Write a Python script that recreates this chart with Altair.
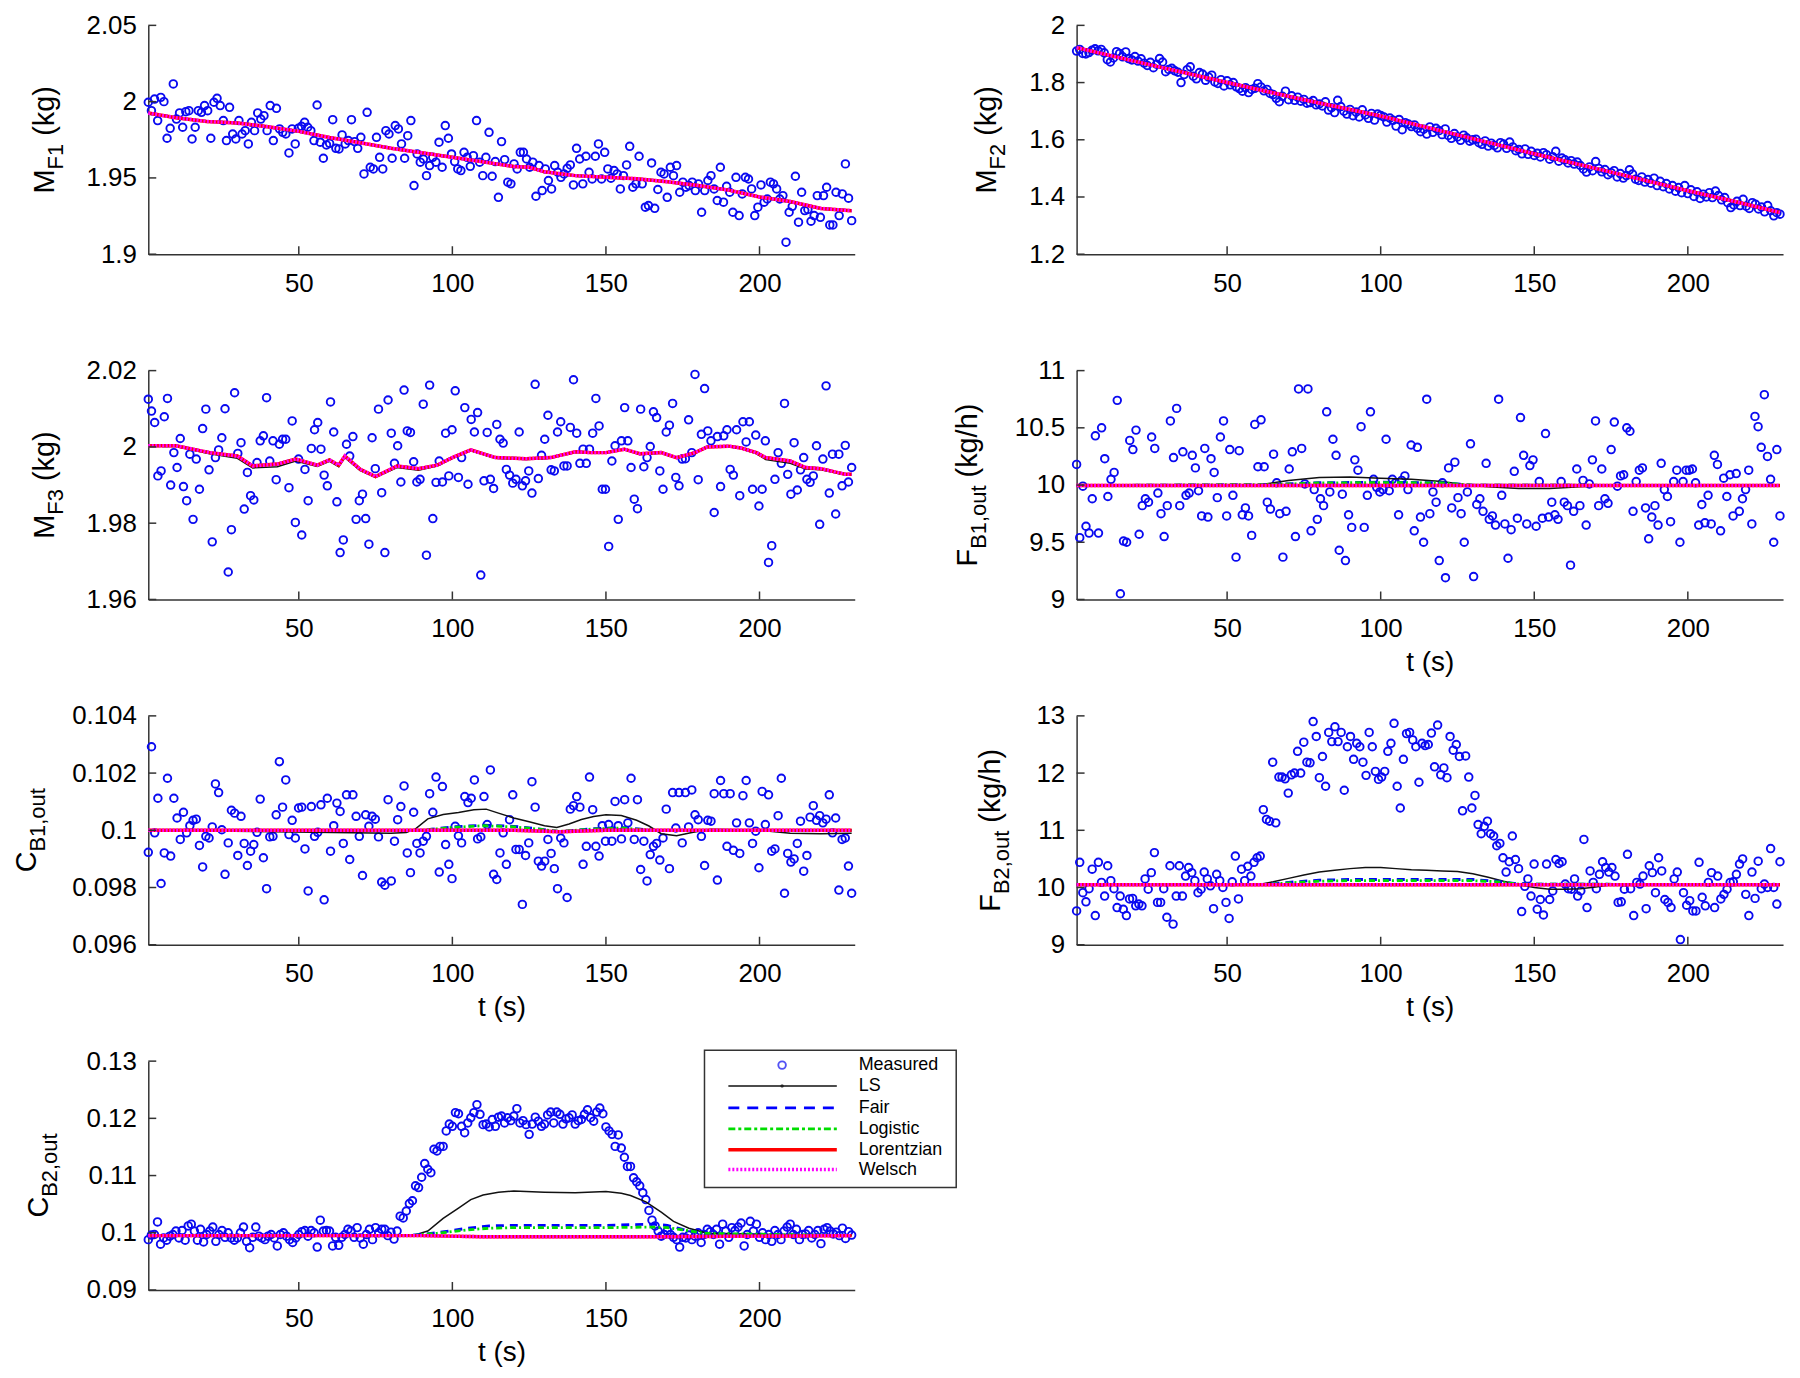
import altair as alt
import numpy as np
import pandas as pd

FONT = "Liberation Sans"
W, H = 710, 230
XDOM = [1, 231]
XTICKS = [50, 100, 150, 200]
AXC = "#333333"
PT_COLOR = "#0A0AF0"

# M_F1 in grams
MF1_G = [1999.6, 1994.1, 2001.7, 1987.6, 2002.8, 2000, 1976.0, 1982.5, 2011.6, 1988.6, 1992.6, 1983.2, 1993.4, 1994.1, 1975.5,
         1983.2, 1994.1, 1993.0, 1997.4, 1994.1, 1976, 1999.6, 2002.2, 1997.4, 1987.6, 1974.5, 1996.3, 1978.8, 1975.5, 1987.6,
         1978.8, 1981, 1972.3, 1986.5, 1981, 1992.6, 1988.6, 1990.8, 1981, 1997.4, 1974.5, 1995.6, 1982.1, 1979.9, 1978.8,
         1966.4, 1982.1, 1972.3, 1982.5, 1983.8, 1986.5, 1983.2, 1981, 1974.5, 1997.8, 1973.4, 1962.9, 1971.6, 1972.7, 1988.2,
         1969.4, 1969, 1978.2, 1972.3, 1974.5, 1988.2, 1973.8, 1969.4, 1976.6, 1952.6, 1993, 1957, 1955.9, 1976.6, 1963.5,
         1955.9, 1981, 1978.8, 1962.9, 1984.3, 1982.1, 1972.3, 1962.9, 1977.7, 1987.6, 1945, 1965.7, 1960.3, 1962.4, 1951.5,
         1958.1, 1963.5, 1960.3, 1973.4, 1957, 1984.3, 1976, 1965.7, 1960.7, 1955.9, 1954.8, 1966.8, 1963.5, 1957.6, 1964.6,
         1987.6, 1960.3, 1951.5, 1963.5, 1979.9, 1951.1, 1960.7, 1937.3, 1973.8, 1962, 1947.2, 1946.1, 1959.2, 1955.9, 1966.8,
         1966.8, 1962.4, 1957, 1960.3, 1938, 1958.1, 1941.7, 1955.9, 1948.3, 1942.8, 1958.1, 1953.7, 1950.4, 1952.6, 1956.3,
         1958.5, 1945.4, 1969.4, 1962.4, 1946.1, 1964.2, 1953.7, 1949.3, 1964.2, 1972.3, 1949.3, 1966.8, 1955.9, 1949.8, 1954.8,
         1952.6, 1942.8, 1951.5, 1958.5, 1970.7, 1943.9, 1946.1, 1964.2, 1946.1, 1930.8, 1931.9, 1959.8, 1930.1, 1942.4, 1953.7,
         1952.6, 1937.3, 1957, 1951.5, 1958.1, 1940.6, 1947.2, 1943.9, 1945, 1947.2, 1941.7, 1946.1, 1927.5, 1941.7, 1948.3,
         1951.5, 1942.8, 1935.2, 1957, 1934.1, 1944.5, 1940.6, 1927.5, 1950.4, 1925.3, 1939.5, 1950.4, 1949.3, 1942.8, 1925.3,
         1930.8, 1945.4, 1934.1, 1936.2, 1947.2, 1946.1, 1942.8, 1936.2, 1938.4, 1907.9, 1927.5, 1931.4, 1951.1, 1921, 1940.6,
         1928.6, 1929.3, 1921.6, 1925.3, 1938.4, 1924.2, 1938.4, 1943.9, 1919.2, 1919.2, 1940.6, 1925.3, 1939.5, 1959.2, 1936.7,
         1922]

# M_F2 in grams
MF2_G = [1910, 1916, 1902, 1900, 1905, 1913, 1918, 1911, 1916, 1904,
         1880, 1872, 1886, 1908, 1902, 1890, 1907, 1884, 1879, 1891,
         1875, 1883, 1868, 1860, 1871, 1852, 1864, 1884, 1872, 1838,
         1846, 1850, 1841, 1836, 1800, 1828, 1845, 1855, 1822, 1813,
         1835, 1830, 1808, 1819, 1826, 1802, 1797, 1810, 1788, 1806,
         1792, 1800, 1785, 1779, 1770, 1782, 1765, 1776, 1780, 1796,
         1785, 1771, 1776, 1762, 1758, 1745, 1733, 1752, 1770, 1740,
         1754, 1738, 1749, 1735, 1741, 1728, 1730, 1737, 1722, 1725,
         1718, 1733, 1704, 1712, 1695, 1738, 1716, 1700, 1690, 1706,
         1684, 1697, 1680, 1705, 1687, 1675, 1692, 1669, 1690, 1685,
         1680, 1662, 1676, 1668, 1648, 1671, 1635, 1660, 1655, 1646,
         1652, 1640, 1628, 1637, 1620, 1645, 1626, 1640, 1632, 1618,
         1638, 1615, 1605, 1622, 1610, 1598, 1616, 1607, 1595, 1600,
         1602, 1590, 1584, 1596, 1578, 1588, 1580, 1572, 1590, 1585,
         1570, 1592, 1575, 1562, 1566, 1551, 1568, 1549, 1560, 1545,
         1553, 1540, 1555, 1548, 1532, 1541, 1560, 1525, 1536, 1530,
         1519, 1527, 1515, 1522, 1510, 1498, 1487, 1505, 1492, 1524,
         1500, 1488, 1496, 1478, 1485, 1492, 1470, 1482, 1466, 1475,
         1495, 1480, 1462, 1458, 1470, 1452, 1461, 1448, 1466, 1440,
         1455, 1436, 1447, 1428, 1440, 1420, 1433, 1415, 1440, 1412,
         1425, 1402, 1418, 1395, 1410, 1400, 1415, 1398, 1421, 1405,
         1390, 1398, 1380, 1363, 1372, 1385, 1370, 1392, 1368, 1360,
         1380, 1375, 1358, 1365, 1348, 1370, 1352, 1334, 1345, 1340]

# M_F3 in grams
MF3_G = [2012.5, 2009.4, 2006.4, 1992.4, 1993.7, 2007.9, 2012.7, 1990, 1998.5, 1994.6, 2002.2, 1989.6, 1985.9, 1998.1, 1981,
         1996.8, 1988.9, 2004.8, 2009.9, 1994, 1975.1, 1997.2, 1999.2, 2002.4, 2010, 1967.2, 1978.3, 2014.2, 1998.3, 2001.1,
         1983.7, 1993.3, 1987.2, 1986.1, 1995.9, 2001.6, 2002.9, 2012.9, 1996.3, 2001.6, 1991.4, 2000.7, 2002, 2002, 1989.3,
         2006.8, 1980.2, 1996.8, 1976.9, 1994.1, 1985.9, 1999.6, 2004.5, 2006.4, 1999.4, 1992.6, 1989.8, 2011.8, 2003.9, 1985.6,
         1972.3, 1975.6, 2000.7, 1997.6, 2002.7, 1981, 1985.9, 1987.6, 1981.2, 1974.5, 2002.4, 1994.3, 2009.9, 1988, 1972.3,
         2012.3, 2003.6, 1995.7, 2000.3, 1990.8, 2014.9, 2004.2, 2003.8, 1996.1, 1990.8, 1991.5, 2011.2, 1971.6, 2016.2, 1981.2,
         1990.7, 1996.3, 1990.8, 2003.6, 1992.4, 2004.5, 2014.7, 1992, 1997.2, 2010.3, 1990.2, 2007.2, 2003.9, 2009, 1966.4,
         1991.1, 2003.8, 1991.5, 1989.1, 2005.9, 2002, 2001, 1994.1, 1992.6, 1990.5, 1991.5, 2003.9, 1989.8, 1991.1, 1993.7,
         1987.9, 2016.4, 1991.7, 1997.8, 2002, 2008.3, 1994, 1993.7, 2003.9, 2006.6, 1995, 1995, 2005.1, 2017.6, 2003.6,
         1995.7, 1999.4, 1995.7, 1999.4, 2003.6, 2012.7, 2005.5, 1988.9, 1988.9, 1973.9, 1996.3, 2000.3, 1981, 2001.6, 2010.3,
         2001.6, 1994.6, 1986.3, 1983.8, 2009.9, 1994.8, 1997.2, 2000.1, 2009.2, 2007.7, 1993.7, 1988.9, 2003.9, 2005.7, 2011.4,
         1992, 1989.8, 1996.8, 1996.9, 2007.1, 1998.5, 2019, 1991.4, 2003.3, 2015.3, 2004.2, 2001.6, 1982.8, 2002.7, 1989.6,
         2002.9, 2004.5, 1994.1, 1992.6, 2004.5, 1987.2, 2006.6, 2001.3, 2006.6, 1988.9, 2003.1, 1984.5, 1988.9, 2001.6, 1969.7,
         1974.1, 1991.5, 1998.5, 1995.7, 2011.4, 1992.8, 1987.6, 2001.1, 1988.7, 1994, 1997.2, 1991.5, 1990.7, 1992.4, 2000.3,
         1979.7, 1996.8, 2016, 1987.9, 1998.1, 1982.4, 1998.1, 1989.8, 2000.4, 1990.8, 1994.6]

# F_B1,out in 0.01 kg/h
FB1_C = [1018, 954, 999, 964, 958, 988, 1043, 958, 1050, 1023, 990, 1005, 1011, 1074, 905, 951, 950, 1039, 1031, 1048,
         957, 982, 988, 985, 1042, 1032, 993, 975, 955, 982, 1056, 1024, 1067, 982, 1029, 991, 993, 1026, 1015, 995,
         973, 1032, 972, 1023, 1011, 989, 1042, 1056, 973, 1031, 991, 937, 1030, 974, 980, 973, 956, 1053, 1016, 1057,
         1016, 985, 979, 1027, 1002, 975, 937, 977, 1014, 1029, 955, 1084, 1032, 1001, 1084, 960, 996, 970, 988, 982,
         1064, 994, 1040, 1026, 943, 992, 934, 974, 963, 1022, 1013, 1051, 963, 991, 1064, 1005, 998, 994, 996, 1040,
         995, 1005, 1002, 974, 1004, 1008, 996, 1035, 960, 1033, 972, 950, 1075, 975, 994, 985, 934, 1002, 919, 1015,
         980, 1020, 989, 975, 950, 994, 1036, 920, 983, 988, 977, 1019, 970, 973, 965, 1075, 991, 966, 936, 961,
         1012, 971, 1059, 1026, 966, 1017, 1022, 964, 1003, 971, 1045, 972, 985, 974, 970, 1003, 985, 982, 930, 977,
         1014, 982, 1004, 965, 1001, 1022, 1056, 982, 1014, 988, 984, 1031, 1055, 999, 1008, 1009, 1050, 1047, 977, 1003,
         1013, 1015, 980, 953, 972, 982, 965, 1019, 996, 990, 968, 1003, 1013, 950, 1003, 1013, 1013, 1014, 1002, 965,
         983, 967, 991, 966, 1026, 1018, 960, 1006, 990, 1009, 973, 1010, 977, 988, 996, 1013, 966, 1060, 1051, 1033,
         1079, 1025, 1005, 950, 1031, 973]

# C_B1,out in 1e-5
CB1_E5 = [9923, 10292, 9991, 10112, 9814, 9921, 10182, 9910, 10112, 10043, 9968, 10063, 9991, 10016, 10035, 10039, 9947,
          9872, 9979, 9973, 10012, 10162, 10132, 10002, 9846, 9956, 10070, 10060, 9912, 10049, 9954, 9877, 9927, 9950,
          9993, 10109, 9904, 9796, 9977, 9979, 10054, 10240, 10081, 10176, 9985, 10035, 9973, 10078, 10081, 9935, 9788,
          10083, 9979, 9993, 10089, 9757, 10112, 9927, 10016, 10095, 10066, 9954, 10124, 9898, 10124, 10049, 9979, 9842,
          10054, 10014, 10049, 10039, 9977, 9819, 9808, 10107, 9823, 9962, 10037, 10083, 10155, 9921, 9852, 10063, 9954,
          9921, 9962, 9979, 10128, 10063, 10186, 9854, 10153, 9950, 9881, 9831, 10014, 9981, 9956, 10118, 10097, 10112,
          10176, 9970, 9977, 10118, 10020, 10211, 9846, 9828, 9921, 9991, 9881, 10037, 10124, 9933, 9933, 9741, 9912,
          9956, 10170, 10081, 9892, 9875, 9892, 9968, 9919, 9866, 9796, 9973, 9956, 9765, 10074, 10086, 10118, 10081,
          9881, 9944, 10186, 10072, 9944, 9910, 10016, 9962, 10020, 9962, 10101, 10016, 9970, 10107, 10026, 10182, 9968,
          10107, 9863, 9962, 9823, 9915, 9944, 9954, 9896, 9973, 10074, 9866, 10132, 10008, 10132, 9956, 10132, 10012,
          10141, 10054, 10037, 9979, 9877, 10035, 10032, 10128, 9826, 10174, 10128, 9944, 10128, 9930, 10026, 9919,
          10121, 10174, 10026, 9954, 9997, 9869, 10136, 10020, 10124, 9927, 9935, 10051, 10182, 9780, 9919, 9889, 9900,
          9954, 10032, 9857, 9912, 10046, 10086, 10035, 10051, 10026, 10039, 10124, 9991, 10043, 9791, 9968, 9973, 9875,
          9780]

# F_B2,out in 0.01 kg/h
FB2_C = [959, 1044, 991, 975, 998, 1032, 951, 1044, 1009, 985, 1038, 1012, 998, 965, 985, 962, 951, 980, 981, 968,
         971, 968, 1015, 997, 1026, 1061, 974, 974, 998, 948, 1038, 936, 985, 1038, 985, 1020, 1035, 1026, 1012, 991,
         997, 1027, 1015, 1003, 963, 1023, 1012, 1000, 974, 946, 1010, 1055, 980, 1032, 1012, 1037, 1020, 1044, 1052, 1055,
         1136, 1119, 1116, 1219, 1113, 1193, 1193, 1190, 1165, 1197, 1200, 1238, 1200, 1254, 1219, 1218, 1290, 1264, 1192, 1229,
         1177, 1271, 1255, 1281, 1255, 1271, 1170, 1246, 1264, 1224, 1252, 1246, 1219, 1196, 1271, 1246, 1203, 1189, 1193, 1203,
         1238, 1252, 1287, 1177, 1139, 1224, 1269, 1271, 1258, 1246, 1184, 1252, 1248, 1250, 1270, 1211, 1284, 1197, 1209, 1192,
         1264, 1240, 1250, 1229, 1134, 1230, 1193, 1139, 1161, 1110, 1094, 1107, 1116, 1094, 1090, 1073, 1077, 1052, 1027, 1045,
         1090, 1049, 1033, 958, 1002, 1015, 985, 1041, 962, 979, 952, 1041, 979, 994, 1049, 1042, 1045, 1006, 998, 997,
         1015, 985, 994, 1084, 965, 1029, 1009, 998, 1023, 1045, 1035, 1027, 1035, 1020, 974, 975, 997, 1058, 998, 951,
         1009, 1006, 1020, 963, 1038, 1026, 991, 1052, 1029, 979, 974, 965, 1015, 1027, 909, 991, 969, 977, 959, 959,
         1044, 983, 968, 1009, 1026, 965, 1020, 980, 988, 997, 1009, 1010, 1023, 1041, 1050, 988, 951, 1027, 981, 1046,
         998, 1006, 1000, 1068, 1000, 971, 1045]

# C_B2,out in 1e-4
CB2_E4 = [988, 996, 997, 1019, 980, 991, 987, 994, 997, 1003, 991, 1004, 987, 1012, 1015, 1003, 987, 1006, 984, 997,
          1003, 1010, 985, 997, 1004, 992, 1000, 991, 987, 991, 1000, 1010, 985, 974, 992, 1010, 994, 991, 988, 994,
          997, 991, 977, 997, 1000, 994, 988, 983, 991, 997, 1002, 1004, 994, 1004, 1000, 975, 1022, 1003, 1004, 1003,
          977, 992, 978, 992, 997, 1006, 1003, 992, 1009, 991, 980, 997, 1006, 988, 1009, 1000, 1006, 1006, 995, 1001,
          989, 1003,
          1029, 1026, 1038, 1051, 1056, 1082, 1079, 1097, 1121, 1111, 1105, 1146, 1143, 1151, 1151, 1178, 1190, 1186,
          1210, 1208, 1186, 1175, 1192, 1201, 1210, 1224, 1207, 1189, 1190, 1185, 1198, 1186, 1202, 1204, 1192, 1201,
          1196, 1204, 1217, 1192, 1196, 1189, 1172, 1190, 1202, 1195, 1186, 1190, 1206, 1211, 1192, 1211, 1207, 1190,
          1199, 1201, 1206, 1190, 1196, 1198, 1207, 1215, 1201, 1195, 1211, 1218, 1208, 1185, 1178, 1172, 1151, 1171,
          1148, 1132, 1116, 1116, 1096, 1089, 1082, 1070, 1058, 1039, 1022, 1012, 1003,
          994, 997, 1004, 997, 992, 988, 975, 992, 991, 996, 988, 994, 1000, 983, 997, 1006, 1002, 997, 1006, 980,
          1015, 1003, 992, 1009, 1004, 1010, 1017, 977, 997, 1020, 1003, 1015, 992, 1000, 988, 997, 985, 1004, 997, 988,
          1003, 1010, 1015, 997, 1006, 988, 997, 998, 1004, 991, 997, 1004, 981, 1006, 1009, 1003, 998, 1001, 995, 1008,
          990, 1002, 996]

# ---------------- estimator lines (knots) ----------------
T1L = [1, 10, 20, 30, 40, 50, 60, 70, 80, 90, 100, 110, 120, 125, 130, 140, 150, 160, 170, 180, 190, 200, 210, 220, 230]
V1L = [1992.5, 1989.5, 1987, 1986, 1983.5, 1980.5, 1976.5, 1973, 1969.5, 1966.5, 1963.5, 1960.5, 1957.5, 1957, 1954,
       1951.5, 1950.5, 1949.5, 1947.5, 1945, 1942, 1937.5, 1934.5, 1930, 1928.5]

T2L = [1, 25, 50, 75, 100, 125, 150, 175, 200, 215, 230]
V2L = [1922, 1862, 1800, 1740, 1683, 1617, 1551, 1487, 1422, 1385, 1346]

T3L = [1, 10, 21, 30, 35, 43, 49, 56, 60, 63, 65, 70, 75, 82, 89, 95, 100, 106, 114, 124, 132, 140, 145, 150, 156, 161,
       168, 173, 179, 183, 190, 194, 199, 202, 210, 215, 220, 228, 230]
W3L = [2000.3, 2000.3, 1998.5, 1997.6, 1995.0, 1995.5, 1996.8, 1995.2, 1996.6, 1995.2, 1997.6, 1994.1, 1992.2, 1995.0,
       1994.3, 1995.2, 1997.2, 1999.2, 1997.2, 1996.9, 1997.2, 1998.7, 1998.5, 1998.5, 1999.4, 1998.2, 1998.5, 1997.2,
       1998.5, 2000.0, 2000.2, 1999.7, 1998.5, 1997.2, 1996.3, 1994.6, 1994.3, 1992.8, 1992.8]
LS3L = [2000.3, 2000.1, 1998.2, 1997.0, 1994.5, 1994.8, 1996.3, 1994.9, 1996.2, 1994.8, 1997.2, 1993.8, 1992.0, 1994.6,
        1993.9, 1995.0, 1997.0, 1999.0, 1997.0, 1996.7, 1997.0, 1998.6, 1998.4, 1998.4, 1999.3, 1998.0, 1998.4, 1997.0,
        1998.4, 1999.9, 2000.1, 1999.5, 1998.2, 1996.7, 1995.7, 1994.2, 1994.0, 1992.6, 1992.6]

T4W = [1, 230]
V4W = [999.5, 999.5]
T4LS = [1, 60, 70, 80, 90, 100, 110, 120, 128, 135, 145, 155, 165, 175, 230]
V4LS = [999.5, 1000, 1004, 1006.5, 1007, 1006, 1005, 1003, 1000, 998.5, 997, 997, 998.5, 999.5, 999.5]
T4F = [1, 65, 80, 100, 120, 130, 230]
V4F = [999.5, 1000.5, 1002, 1002.5, 1002, 1000, 999.5]
V4G = [999.5, 1000.5, 1001.8, 1002.2, 1001.8, 1000, 999.5]

T5W = [1, 120, 135, 150, 230]
V5W = [10000, 10000, 9995, 10000, 10000]
T5LS = [1, 80, 85, 88, 92, 97, 102, 107, 111, 115, 120, 125, 130, 134, 138, 142, 146, 150, 155, 160, 164, 168, 173, 178,
        184, 200, 210, 220, 230]
V5LS = [10000, 9990, 9992, 10005, 10040, 10055, 10062, 10072, 10074, 10060, 10043, 10030, 10016, 10010, 10022, 10038,
        10048, 10054, 10052, 10035, 10015, 9988, 9981, 9992, 10004, 10000, 9990, 9988, 9990]
T5F = [1, 90, 100, 110, 120, 128, 135, 145, 155, 165, 230]
V5F = [10000, 10000, 10012, 10018, 10014, 10005, 9995, 10005, 10010, 10000, 10000]
V5G = [10000, 10000, 10010, 10016, 10012, 10004, 9996, 10004, 10008, 10000, 10000]

T6W = [1, 230]
V6W = [1005, 1005]
T6LS = [1, 60, 65, 70, 75, 80, 85, 90, 95, 100, 105, 110, 115, 120, 125, 130, 135, 140, 145, 150, 155, 160, 165, 170,
        175, 230]
V6LS = [1005, 1005, 1010, 1016, 1022, 1027, 1030, 1033, 1035, 1035, 1033, 1031, 1030, 1029, 1028, 1024, 1018, 1011, 1005,
        1000, 997, 997, 998, 1001, 1005, 1005]
T6F = [1, 62, 70, 80, 90, 130, 138, 145, 230]
V6F = [1005, 1005, 1009, 1013, 1014, 1014, 1011, 1006, 1005]
V6G = [1005, 1005, 1008, 1011, 1012, 1012, 1010, 1006, 1005]

T7W = [1, 90, 110, 165, 230]
V7W = [995, 995, 993, 993, 995]
T7LS = [1, 87, 92, 97, 102, 106, 110, 115, 120, 130, 140, 150, 155, 158, 163, 168, 172, 177, 183, 230]
V7LS = [995, 995, 1003, 1025, 1043, 1058, 1066, 1071, 1073, 1071, 1070, 1072, 1069, 1065, 1054, 1036, 1020, 1008, 999, 995]
T7F = [1, 86, 95, 105, 112, 120, 150, 165, 170, 175, 182, 230]
V7F = [995, 995, 1000, 1008, 1012, 1013, 1013, 1015, 1013, 1006, 998, 995]
V7G = [995, 995, 999, 1005, 1008, 1009, 1009, 1010, 1009, 1005, 999, 995]

SERIES = ["LS", "Fair", "Logistic", "Lorentzian", "Welsch"]
LEGEND_NAMES = ["Measured"] + SERIES

STYLE = {
    "LS": dict(color="#111111", strokeWidth=1.5),
    "Fair": dict(color="#0000FF", strokeWidth=2.8, strokeDash=[8, 6]),
    "Logistic": dict(color="#00DD00", strokeWidth=2.8, strokeDash=[6, 3, 2, 3]),
    "Lorentzian": dict(color="#FF0000", strokeWidth=3.5),
    "Welsch": dict(color="#FF00FF", strokeWidth=3.5, strokeDash=[2, 1.5]),
}

PANELS = [
    dict(meas=MF1_G, unit=1000, ydom=[1.9, 2.05], yticks=[1.9, 1.95, 2.0, 2.05], title=("M", "F1", "(kg)"), bx=-95,
         xtitle=False, lines={"LS": (T1L, V1L), "Fair": (T1L, V1L), "Logistic": (T1L, V1L),
                              "Lorentzian": (T1L, V1L), "Welsch": (T1L, V1L)}),
    dict(meas=MF2_G, unit=1000, ydom=[1.2, 2.0], yticks=[1.2, 1.4, 1.6, 1.8, 2.0], title=("M", "F2", "(kg)"), bx=-81,
         xtitle=False, lines={"LS": (T2L, V2L), "Fair": (T2L, V2L), "Logistic": (T2L, V2L),
                              "Lorentzian": (T2L, V2L), "Welsch": (T2L, V2L)}),
    dict(meas=MF3_G, unit=1000, ydom=[1.96, 2.02], yticks=[1.96, 1.98, 2.0, 2.02], title=("M", "F3", "(kg)"), bx=-95,
         xtitle=False, lines={"LS": (T3L, LS3L), "Fair": (T3L, W3L), "Logistic": (T3L, W3L),
                              "Lorentzian": (T3L, W3L), "Welsch": (T3L, W3L)}),
    dict(meas=FB1_C, unit=100, ydom=[9, 11], yticks=[9, 9.5, 10, 10.5, 11], title=("F", "B1,out", "(kg/h)"), bx=-100,
         xtitle=True, lines={"LS": (T4LS, V4LS), "Fair": (T4F, V4F), "Logistic": (T4F, V4G),
                             "Lorentzian": (T4W, V4W), "Welsch": (T4W, V4W)}),
    dict(meas=CB1_E5, unit=1e5, ydom=[0.096, 0.104], yticks=[0.096, 0.098, 0.1, 0.102, 0.104],
         title=("C", "B1,out", ""), bx=-113, xtitle=True,
         lines={"LS": (T5LS, V5LS), "Fair": (T5F, V5F), "Logistic": (T5F, V5G),
                "Lorentzian": (T5W, V5W), "Welsch": (T5W, V5W)}),
    dict(meas=FB2_C, unit=100, ydom=[9, 13], yticks=[9, 10, 11, 12, 13], title=("F", "B2,out", "(kg/h)"), bx=-77,
         xtitle=True, lines={"LS": (T6LS, V6LS), "Fair": (T6F, V6F), "Logistic": (T6F, V6G),
                             "Lorentzian": (T6W, V6W), "Welsch": (T6W, V6W)}),
    dict(meas=CB2_E4, unit=1e4, ydom=[0.09, 0.13], yticks=[0.09, 0.1, 0.11, 0.12, 0.13], title=("C", "B2,out", ""),
         bx=-101, xtitle=True, legend=True,
         lines={"LS": (T7LS, V7LS), "Fair": (T7F, V7F), "Logistic": (T7F, V7G),
                "Lorentzian": (T7W, V7W), "Welsch": (T7W, V7W)}),
]

# approximate advance widths (em) for title layout
WID = {"M": .833, "F": .611, "C": .722, "B": .667, "1": .556, "2": .556, "3": .556, ",": .278, "o": .556, "u": .556,
       "t": .278, " ": .278, "(": .333, ")": .333, "k": .5, "g": .556, "/": .278, "h": .556}


def tw(s, size):
    return sum(WID.get(c, .556) for c in s) * size


def title_layers(main, sub, rest, bx):
    fm, fs = 29, 22
    wm, ws = tw(main, fm), tw(sub, fs)
    gap = tw(" ", fm) if rest else 0
    wr = tw(rest, fm) if rest else 0
    total = wm + ws + gap + wr
    y0 = H / 2 + total / 2
    df = pd.DataFrame({"main": [main], "sub": [sub], "rest": [rest]})
    base = alt.Chart(df)
    common = dict(angle=270, align="left", baseline="alphabetic", font=FONT, color="black")
    layers = [
        base.mark_text(fontSize=fm, **common).encode(text="main:N", x=alt.value(bx), y=alt.value(y0)),
        base.mark_text(fontSize=fs, **common).encode(text="sub:N", x=alt.value(bx + 9), y=alt.value(y0 - wm)),
    ]
    if rest:
        layers.append(base.mark_text(fontSize=fm, **common).encode(
            text="rest:N", x=alt.value(bx), y=alt.value(y0 - wm - ws - gap)))
    return layers


def legend_layers():
    L = []
    box = pd.DataFrame({"k": [0]})
    L.append(alt.Chart(box).mark_rect(fill="white", stroke=AXC, strokeWidth=1.5).encode(
        x=alt.value(559), x2=alt.value(812), y=alt.value(-11), y2=alt.value(127)))
    rows = [4, 25, 47, 68, 89, 109]
    for i, name in enumerate(LEGEND_NAMES):
        d = pd.DataFrame({"name": [name]})
        yv = rows[i]
        if name == "Measured":
            L.append(alt.Chart(d).mark_point(shape="circle", filled=False, size=58, strokeWidth=1.9,
                                             color=PT_COLOR).encode(x=alt.value(637), y=alt.value(yv)))
        else:
            st = dict(STYLE[name])
            if name == "Fair":
                st["strokeDash"] = [11, 8]
            if name == "Logistic":
                st["strokeDash"] = [7, 3, 3, 3]
            if name == "Welsch":
                st["strokeDash"] = [2, 2]
            L.append(alt.Chart(d).mark_rule(**st).encode(
                x=alt.value(583), x2=alt.value(692), y=alt.value(yv)))
            if name == "LS":
                L.append(alt.Chart(d).mark_point(shape="circle", filled=True, size=12, color="#111111").encode(
                    x=alt.value(637), y=alt.value(yv)))
        L.append(alt.Chart(d).mark_text(align="left", baseline="middle", font=FONT, fontSize=18,
                                        color="black").encode(text="name:N", x=alt.value(714), y=alt.value(yv)))
    return L


def make_panel(p, first=False):
    xaxis = alt.Axis(values=XTICKS, title="t (s)" if p["xtitle"] else None, titleY=63, titleBaseline="middle",
                     labelBaseline="middle", labelPadding=29)
    X = alt.X("t:Q", scale=alt.Scale(domain=XDOM, nice=False, zero=False), axis=xaxis)
    Y = alt.Y("v:Q", scale=alt.Scale(domain=p["ydom"], nice=False, zero=False),
              axis=alt.Axis(values=p["yticks"], format="~g", title=None, labelPadding=12))
    n = len(p["meas"])
    meas = pd.DataFrame({"t": np.linspace(1, 230, n), "v": np.array(p["meas"], dtype=float) / p["unit"]})
    layers = [alt.Chart(meas).mark_point(shape="circle", filled=False, size=58, strokeWidth=1.9,
                                         color=PT_COLOR, opacity=1).encode(x=X, y=Y)]
    for s in SERIES:
        tl, vl = p["lines"][s]
        d = pd.DataFrame({"t": tl, "v": np.array(vl, dtype=float) / p["unit"]})
        layers.append(alt.Chart(d).mark_line(**STYLE[s]).encode(x=X, y=Y))
    # inward ticks
    layers.append(alt.Chart(pd.DataFrame({"v": p["yticks"]})).mark_rule(color=AXC, strokeWidth=1.5).encode(
        y=Y, x=alt.value(0), x2=alt.value(8)))
    layers.append(alt.Chart(pd.DataFrame({"t": XTICKS})).mark_rule(color=AXC, strokeWidth=1.5).encode(
        x=X, y=alt.value(H), y2=alt.value(H - 8)))
    layers += title_layers(*p["title"], p["bx"])
    if p.get("legend"):
        layers += legend_layers()
    if first:
        layers.append(alt.Chart(pd.DataFrame({"k": [0]})).mark_rule(color="white", strokeWidth=1).encode(
            x=alt.value(-140), x2=alt.value(-139), y=alt.value(-13)))
    return alt.layer(*layers).properties(width=W, height=H)


panels = [make_panel(p, first=(i == 0)) for i, p in enumerate(PANELS)]

chart = alt.concat(*panels, columns=2, spacing={"row": 117, "column": 223}, bounds="flush").properties(
    padding={"left": 0, "top": 0, "right": 4, "bottom": 4}
).configure_view(stroke=None).configure_axis(
    domainColor=AXC, domainWidth=1.5, grid=False, ticks=False, tickSize=0,
    labelFont=FONT, labelFontSize=26, labelColor="black", labelFlush=False, labelOverlap=False,
    titleFont=FONT, titleFontSize=28, titleFontWeight="normal", titleColor="black"
)

chart.save("out.html", embed_options={"renderer": "svg", "actions": False})
